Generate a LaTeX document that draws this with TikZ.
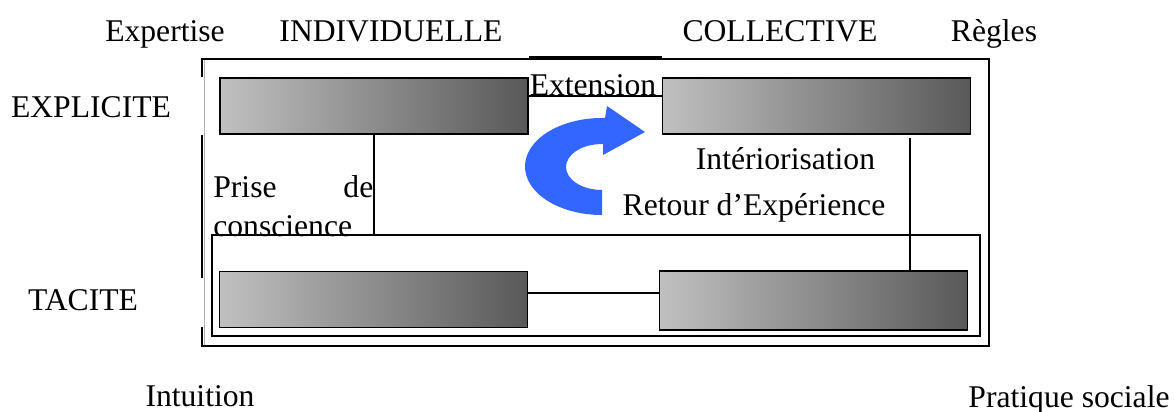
\documentclass[tikz,border=0pt]{standalone}
\usepackage{fontspec}
\setmainfont{Liberation Serif}
\usetikzlibrary{calc}
\definecolor{kmLight}{HTML}{C0C0C0}
\definecolor{kmDark}{HTML}{595959}
\definecolor{kmBlue}{HTML}{3366FF}
\definecolor{kmGray}{HTML}{B0B0B0}

\begin{document}
\begin{tikzpicture}[x=0.02cm,y=-0.02cm,
  bar/.style={draw=black,line width=0.8pt,shading=axis,left color=kmLight,right color=kmDark,minimum width=6.16cm,minimum height=1.12cm,inner sep=0pt},
  lbl/.style={font=\fontsize{18}{22.2}\selectfont,inner sep=0pt,anchor=base}]
\useasboundingbox (0,0) rectangle (1174,412);
% column and row headings
\node[lbl] (expertise) at (165,42) {Expertise};
\node[lbl] (indiv) at (391,42) {INDIVIDUELLE};
\node[lbl] (coll) at (780,42) {COLLECTIVE};
\node[lbl] (regles) at (994,42) {Règles};
\node[lbl] (explicite) at (91,118) {EXPLICITE};
\node[lbl] (tacite) at (83,310) {TACITE};
\node[lbl] (intuition) at (200,406) {Intuition};
\node[lbl] (pratique) at (1069,407) {Pratique sociale};
% frames
\draw[kmGray,line width=0.4pt] (204,59) -- (204,346);
\draw[line width=0.7pt] (202,77) -- (202,59) -- (989,59) -- (989,346) -- (202,346) -- (202,327);
\draw[line width=0.7pt] (202,278) -- (202,135);
\node[draw,line width=0.8pt,minimum width=15.36cm,minimum height=2.02cm,inner sep=0pt] (inner) at (596,285.5) {};
% knowledge bars
\node[bar] (tl) at (374,106) {};
\node[bar] (tr) at (816.5,106) {};
\node[bar] (bl) at (373.5,299.5) {};
\node[bar,minimum height=1.18cm] (br) at (813.5,300.5) {};
% connectors
\coordinate (ext) at (595,96);
\coordinate (mid) at (594,293);
\coordinate (rv) at (910,138);
\draw[line width=1pt] (529,57) -- (662,57);
\draw[line width=0.8pt] (tl.east |- ext) -- (tr.west |- ext);
\draw[line width=0.8pt] (bl.east |- mid) -- (br.west |- mid);
\draw[line width=0.8pt] (tl.south) -- (tl.south |- inner.north);
\draw[line width=0.8pt] (rv) -- (rv |- br.north);
% process labels
\node[lbl] (extension) at (593,96) {Extension};
\node[lbl] (interior) at (785.5,170) {Intériorisation};
\node[lbl] (retour) at (754,215) {Retour d’Expérience};
\node[lbl,anchor=north west,text width=3.2cm,align=left] (prise) at (213,175) {Prise\hfill de\\conscience};
% blue curved arrow
\fill[kmBlue] (602,215) arc[start angle=90,end angle=270,x radius=77,y radius=48.5]
  -- (605,118) -- (607,106) -- (645,132) -- (603,155) -- (603,144) -- (602,144)
  arc[start angle=270,end angle=90,x radius=36,y radius=23] -- cycle;
\end{tikzpicture}
\end{document}
